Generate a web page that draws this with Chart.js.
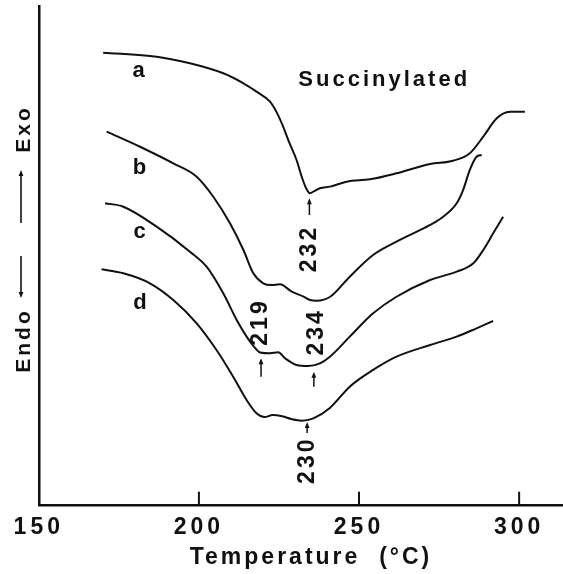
<!DOCTYPE html>
<html><head><meta charset="utf-8">
<script src="https://cdn.jsdelivr.net/npm/chart.js@4.4.1/dist/chart.umd.min.js"></script>
<style>html,body{margin:0;padding:0;background:#fff}canvas{display:block}</style>
</head><body>
<canvas id="c" width="563" height="574"></canvas>
<script>
// Temperature (°C) and heat-flow signal (arbitrary units, up = exo) for each curve
const tempA = [170.1,186.8,197.2,207.6,213.9,218.0,222.2,224.5,226.3,228.3,230.5,232.0,233.3,234.7,236.0,237.8,241.0,246.1,253.4,261.7,272.2,279.4,284.6,288.8,293.0,297.1,301.8];
const heatA = [444.9,440.9,434.4,424.6,414.8,406.6,396.7,385.0,372.2,356.0,339.5,324.0,313.0,306.8,309.0,311.7,313.3,318.2,320.5,326.4,335.6,338.8,346.1,362.4,380.4,386.9,386.9];

const tempB = [171.2,181.6,192.0,199.3,204.5,209.7,213.9,217.0,220.1,222.7,225.3,229.0,232.5,234.7,236.8,241.0,247.1,254.4,261.7,272.2,276.3,280.5,282.5,284.6,286.7,288.3];
const heatB = [367.3,352.5,336.2,323.1,303.4,277.3,251.1,228.2,218.4,216.7,217.4,210.2,205.5,202.0,201.3,205.2,224.9,246.2,259.3,275.7,283.8,297.0,310.0,329.7,342.7,344.4];

const tempC = [170.7,176.4,186.8,197.2,202.4,207.6,211.8,214.9,217.0,219.1,222.2,224.8,226.9,230.5,234.1,237.8,240.9,247.1,254.4,261.7,272.2,280.5,285.7,288.8,291.9,295.0];
const heatC = [297.0,293.6,274.0,249.4,234.7,208.6,182.4,166.0,157.0,150.5,149.7,150.6,144.8,138.2,137.2,139.8,146.3,166.0,188.9,205.2,221.6,229.8,238.0,251.1,267.5,283.8];

const tempD = [169.6,176.4,184.7,192.0,199.3,205.5,210.7,214.9,218.0,220.5,223.0,226.0,229.0,232.1,235.7,240.9,247.1,254.4,261.7,272.2,280.5,286.7,291.9];
const heatD = [232.1,228.2,218.4,202.0,179.1,152.9,126.7,103.8,90.7,87.0,89.0,87.8,85.0,83.5,85.8,96.0,116.9,133.3,146.3,157.8,166.0,174.2,181.4];

const curveNames = ['a','b','c','d'];
const xTickValues = [150,200,250,300];

// annotations (data coordinates)
const curveLabelT = [181.2,181.4,181.5,181.6];
const curveLabelH = [421.2,325.7,263.2,193.2];
const peakLabels = ['232','219','234','230'];
const peakLabelT = [234.7,219.4,236.8,234.1];
const peakLabelH = [251.1,178.9,169.3,43.2];
const peakArrowT = [234.5,219.4,235.9,233.8];
const peakArrowLow = [285.5,126.7,116.9,71.4];
const peakArrowHigh = [301.9,144.8,131.6,82.2];

const INK = '#111';
const FONT = '"Liberation Sans", Arial, sans-serif';

function pts(t,h){ return t.map((v,i)=>({x:v,y:h[i]})); }
const series = [pts(tempA,heatA),pts(tempB,heatB),pts(tempC,heatC),pts(tempD,heatD)];

function arrowUp(ctx, x, yTop, yBot, head){
  ctx.beginPath(); ctx.moveTo(x,yBot); ctx.lineTo(x,yTop+head*0.8); ctx.stroke();
  ctx.beginPath(); ctx.moveTo(x,yTop); ctx.lineTo(x-2.4,yTop+head); ctx.lineTo(x+2.4,yTop+head); ctx.closePath(); ctx.fill();
}
function arrowDown(ctx, x, yTop, yBot, head){
  ctx.beginPath(); ctx.moveTo(x,yTop); ctx.lineTo(x,yBot-head*0.8); ctx.stroke();
  ctx.beginPath(); ctx.moveTo(x,yBot); ctx.lineTo(x-2.4,yBot-head); ctx.lineTo(x+2.4,yBot-head); ctx.closePath(); ctx.fill();
}

const annot = {
  id:'annot',
  beforeDraw(chart){ chart.ctx.letterSpacing = '4px'; },
  afterDraw(chart){
    const {ctx, chartArea} = chart;
    const x = chart.scales.x, y = chart.scales.y;
    ctx.save();
    ctx.letterSpacing = '0px';
    ctx.strokeStyle = INK; ctx.fillStyle = INK;
    // inward tick marks
    ctx.lineWidth = 2;
    x.ticks.forEach(t => {
      if (t.value <= x.min) return;
      const px = x.getPixelForValue(t.value);
      ctx.beginPath(); ctx.moveTo(px, chartArea.bottom); ctx.lineTo(px, chartArea.bottom-14); ctx.stroke();
    });
    // curve letters
    ctx.letterSpacing = '3px';
    ctx.font = 'bold 22px ' + FONT;
    ctx.textAlign = 'center'; ctx.textBaseline = 'alphabetic';
    curveNames.forEach((s,i)=> ctx.fillText(s, x.getPixelForValue(curveLabelT[i])+1.5, y.getPixelForValue(curveLabelH[i])));
    // title
    ctx.fillText('Succinylated', x.getPixelForValue(257.4)+1.5, y.getPixelForValue(412.2));
    // rotated peak labels
    ctx.font = 'bold 23px ' + FONT;
    ctx.textBaseline = 'middle';
    peakLabels.forEach((s,i)=>{
      ctx.save();
      ctx.translate(x.getPixelForValue(peakLabelT[i]), y.getPixelForValue(peakLabelH[i]));
      ctx.rotate(-Math.PI/2);
      ctx.fillText(s, 1.5, 0);
      ctx.restore();
    });
    // arrows
    ctx.lineWidth = 1.5;
    peakLabels.forEach((s,i)=>{
      arrowUp(ctx, x.getPixelForValue(peakArrowT[i]), y.getPixelForValue(peakArrowHigh[i]), y.getPixelForValue(peakArrowLow[i]), 6);
    });
    // x axis title
    ctx.font = 'bold 23px ' + FONT;
    ctx.textBaseline = 'alphabetic';
    ctx.fillText('Temperature  (\u00B0C)', 311, 563.5);
    // y axis title
    ctx.font = 'bold 21px ' + FONT;
    ctx.save(); ctx.translate(29.6, 130.5); ctx.rotate(-Math.PI/2); ctx.fillText('Exo', 1.5, 0); ctx.restore();
    ctx.save(); ctx.translate(29.6, 342); ctx.rotate(-Math.PI/2); ctx.fillText('Endo', 1.5, 0); ctx.restore();
    ctx.lineWidth = 1.6;
    arrowUp(ctx, 21, 170, 223, 6);
    arrowDown(ctx, 21, 256, 298, 6);
    ctx.restore();
  }
};

new Chart(document.getElementById('c').getContext('2d'), {
  type:'line',
  data:{ datasets: series.map((d,i)=>({
    label: curveNames[i], data: d, borderColor: INK, borderWidth: 2,
    pointRadius: 0, fill: false, cubicInterpolationMode: 'monotone'
  }))},
  options:{
    responsive:false, animation:false, devicePixelRatio:1,
    layout:{ padding:{ left:38.8, top:6.6, right:0, bottom:0 } },
    plugins:{ legend:{display:false}, tooltip:{enabled:false} },
    scales:{
      x:{ type:'linear', min:150, max:313.7,
        afterFit(s){ s.height = 68.3; },
        afterBuildTicks(s){ s.ticks = xTickValues.map(v=>({value:v})); },
        ticks:{ stepSize:50, includeBounds:false, color:INK, padding:8, maxRotation:0,
          font:{ family:FONT, size:23, weight:'bold' } },
        grid:{ display:true, drawOnChartArea:false, drawTicks:false },
        border:{ display:true, color:INK, width:2.5 } },
      y:{ type:'linear', min:0, max:490.1,
        afterFit(s){ s.width = 0; },
        ticks:{ display:false },
        grid:{ display:true, drawOnChartArea:false, drawTicks:false },
        border:{ display:true, color:INK, width:2.5 } }
    }
  },
  plugins:[annot]
});
</script>
</body></html>
